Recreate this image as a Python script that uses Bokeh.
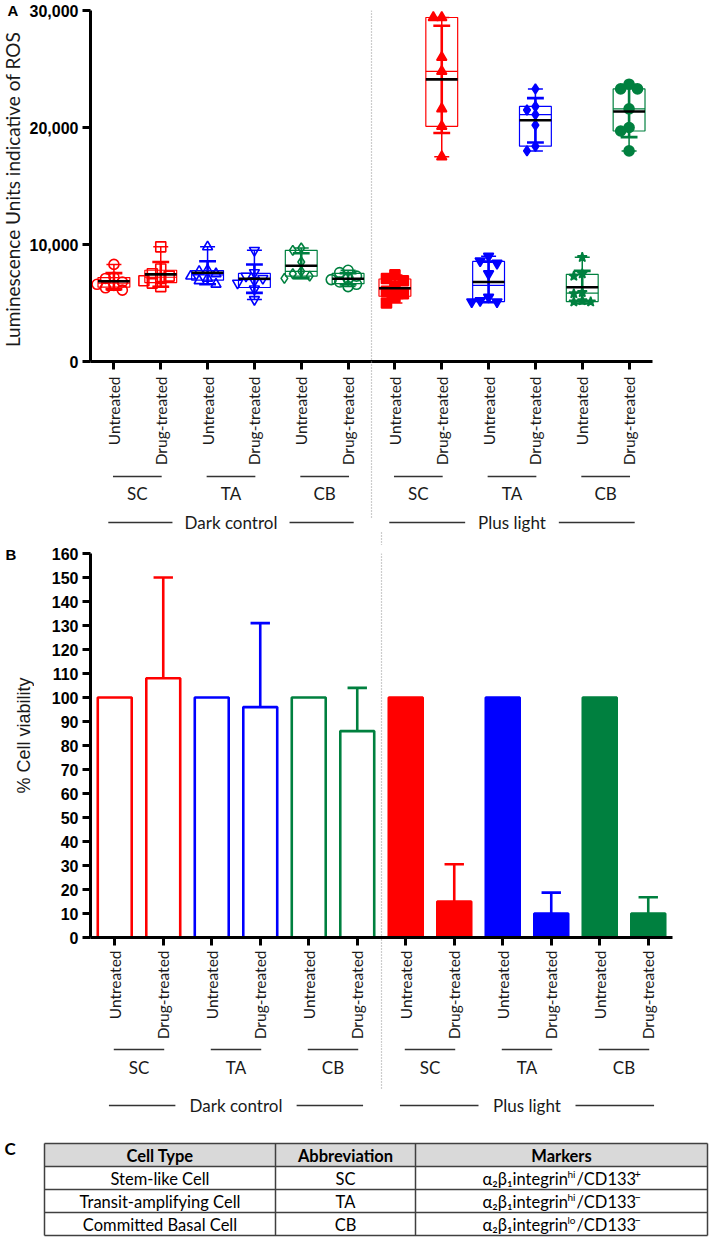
import math
import numpy as np
from bokeh.plotting import figure
from bokeh.models import Range1d, FixedTicker, NumeralTickFormatter, Span, ColumnDataSource
from bokeh.layouts import column, row
from bokeh.embed import file_html
from bokeh.resources import INLINE
from bokeh.core.properties import value

# ---------------- data ----------------
treatments = ["Untreated", "Drug-treated"] * 6
cell_groups = ["SC", "TA", "CB", "SC", "TA", "CB"]
conditions = ["Dark control", "Plus light"]

ros_dark_sc_untreated = [8300, 7200, 7100, 6800, 6600, 6500, 6300, 6100]
ros_dark_sc_drug = [9800, 7900, 7500, 7300, 7100, 6900, 6700, 6400]
ros_dark_ta_untreated = [9800, 7800, 7700, 7500, 7300, 7100, 6900, 6600]
ros_dark_ta_drug = [9500, 7600, 7300, 7100, 6900, 6700, 6200, 5300]
ros_dark_cb_untreated = [9700, 9500, 8500, 7700, 7500, 7300, 7100]
ros_dark_cb_drug = [7800, 7600, 7300, 7100, 7000, 6800, 6600, 6400]
ros_light_sc_untreated = [7400, 7100, 6900, 6400, 6000, 5800, 5500, 5000]
ros_light_sc_drug = [29400, 29400, 26000, 24800, 21600, 20100, 17500]
ros_light_ta_untreated = [9000, 8600, 8400, 7500, 5500, 5200, 5100, 5100]
ros_light_ta_drug = [23300, 21800, 21500, 21100, 20200, 18400, 18000]
ros_light_cb_untreated = [8900, 7500, 7300, 5900, 5800, 5200, 5100, 5100]
ros_light_cb_drug = [23700, 23300, 23300, 21600, 20000, 19700, 18000]

ros_groups = [ros_dark_sc_untreated, ros_dark_sc_drug, ros_dark_ta_untreated, ros_dark_ta_drug,
              ros_dark_cb_untreated, ros_dark_cb_drug, ros_light_sc_untreated, ros_light_sc_drug,
              ros_light_ta_untreated, ros_light_ta_drug, ros_light_cb_untreated, ros_light_cb_drug]

viability_mean = [100, 108, 100, 96, 100, 86, 100, 15, 100, 10, 100, 10]
viability_upper = [100, 150, 100, 131, 100, 104, 100, 30.5, 100, 18.7, 100, 16.8]

ros_ticks = [0, 10000, 20000, 30000]
viability_ticks = list(range(0, 161, 10))
ros_title = "Luminescence Units indicative of ROS"
viability_title = "% Cell viability"

table_header = ["Cell Type", "Abbreviation", "Markers"]
table_cell_type = ["Stem-like Cell", "Transit-amplifying Cell", "Committed Basal Cell"]
table_abbrev = ["SC", "TA", "CB"]
table_marker_base = "\u03b1\u2082\u03b2\u2081integrin"
table_integrin = ["hi", "hi", "lo"]
table_marker_mid = "/CD133"
table_cd133 = ["+", "\u2212", "\u2212"]

# ---------------- styles / geometry ----------------
RED, BLUE, GREEN = "#FF0000", "#0000FF", "#00803F"
group_colors = [RED, RED, BLUE, BLUE, GREEN, GREEN] * 2
group_markers = ["circle", "square", "triangle", "inverted_triangle", "diamond", "circle",
                 "square", "triangle", "inverted_triangle", "diamond", "star", "circle"]
group_filled = [0] * 6 + [1] * 6

W = 709          # total width
FRAME_L = 90     # frame left, in page pixels
LABEL_FONT = "Lato"
TICK_FONT = "Liberation Sans"
LINE_GREY = "#333333"
DOT_GREY = "#9a9a9a"
TXT = "#1a1a1a"
TICK_OUT = 8
xpos = np.arange(12)


def plain_fig(w, h, xr, yr):
    p = figure(width=w, height=h, x_range=Range1d(*xr), y_range=Range1d(*yr),
               x_axis_type=None, y_axis_type=None, output_backend="svg",
               toolbar_location=None, tools="", min_border=0, frame_align=False)
    p.outline_line_color = None
    p.xgrid.visible = False
    p.ygrid.visible = False
    p.background_fill_color = "white"
    p.border_fill_color = "white"
    return p


def make_fig(strip, h, top, bottom, right, yr, yticks, label_gap, fmt=None):
    p = figure(width=W - strip, height=h, x_range=Range1d(-0.5, 11.5), y_range=Range1d(*yr),
               output_backend="svg", toolbar_location=None, tools="",
               min_border_left=FRAME_L - strip, min_border_right=right,
               min_border_top=top, min_border_bottom=bottom, frame_align=False)
    p.outline_line_color = None
    p.xgrid.visible = False
    p.ygrid.visible = False
    p.background_fill_color = "white"
    p.border_fill_color = "white"
    xa = p.xaxis[0]
    # the minor tick at 5.5 draws the dotted separator through the label area
    xa.ticker = FixedTicker(ticks=list(range(12)), minor_ticks=[5.5])
    xa.major_label_overrides = {i: t for i, t in enumerate(treatments)}
    xa.major_label_orientation = math.pi / 2
    xa.major_label_text_font = LABEL_FONT
    xa.major_label_text_font_size = "15.5px"
    xa.major_label_text_color = TXT
    xa.minor_tick_out = bottom
    xa.minor_tick_in = 0
    xa.minor_tick_line_color = DOT_GREY
    xa.minor_tick_line_width = 1.2
    xa.minor_tick_line_dash = "1 2"
    xa.major_label_standoff = label_gap - (bottom - TICK_OUT)
    ya = p.yaxis[0]
    ya.ticker = FixedTicker(ticks=yticks)
    if fmt:
        ya.formatter = NumeralTickFormatter(format=fmt)
    ya.major_label_text_font = TICK_FONT
    ya.major_label_text_font_style = "bold"
    ya.major_label_text_font_size = "16px"
    ya.major_label_text_color = "black"
    ya.major_label_standoff = 4
    ya.minor_tick_out = 0
    ya.minor_tick_in = 0
    for ax in (xa, ya):
        ax.axis_line_width = 3
        ax.axis_line_color = "black"
        ax.major_tick_line_width = 3
        ax.major_tick_line_color = "black"
        ax.major_tick_out = TICK_OUT
        ax.major_tick_in = 0
    p.add_layout(Span(location=5.5, dimension="height", line_color=DOT_GREY,
                      line_width=1.2, line_dash="1 2"))
    return p


def strip_fig(w, h, letter, letter_px, letter_py, title, title_px, title_py, title_font, title_size):
    s = plain_fig(w, h, (0, w), (0, h))
    s.text(x=[letter_px], y=[h - letter_py], text=[letter], text_align="left", text_baseline="middle",
           text_font=value(TICK_FONT), text_font_style="bold", text_font_size="15px",
           text_color="black")
    s.text(x=[title_px], y=[h - title_py], text=[title], angle=math.pi / 2, text_align="center",
           text_baseline="middle", text_font=value(title_font), text_font_size=title_size,
           text_color=TXT)
    return s


def xmap(frame_w):
    ux = 12.0 / frame_w
    return lambda px: -0.5 + (px - FRAME_L) * ux


def label_fig(h, X, under_py, grp_py, cond_py, dots):
    p = plain_fig(W, h, (X(0), X(W)), (0, h))
    for (xd, y0, y1) in dots:
        p.segment(x0=[xd], x1=[xd], y0=[h - y0], y1=[h - y1], line_color=DOT_GREY,
                  line_width=1.2, line_dash="1 2")
    cx = [2 * k + 0.5 for k in range(6)]
    p.segment(x0=[c - 0.52 for c in cx], x1=[c + 0.52 for c in cx], y0=[h - under_py] * 6,
              y1=[h - under_py] * 6, line_color=LINE_GREY, line_width=1.5)
    p.text(x=cx, y=[h - grp_py] * 6, text=cell_groups, text_align="center", text_baseline="middle",
           text_font=value(LABEL_FONT), text_font_size="17px", text_color=TXT)
    cc = [2.5, 8.5]
    inner = [1.25, 1.0]
    x0s, x1s = [], []
    for c, inn in zip(cc, inner):
        x0s += [c - 2.62, c + inn]
        x1s += [c - inn, c + 2.62]
    p.segment(x0=x0s, x1=x1s, y0=[h - cond_py] * 4, y1=[h - cond_py] * 4,
              line_color=LINE_GREY, line_width=1.5)
    p.text(x=cc, y=[h - cond_py] * 2, text=conditions, text_align="center", text_baseline="middle",
           text_font=value(LABEL_FONT), text_font_size="17px", text_color=TXT)
    return p


def swarm(vals, dx, dy):
    vals = np.asarray(vals, float)
    order = np.argsort(-vals, kind="stable")
    offs = np.zeros(len(vals))
    placed = []
    cands = [0.0]
    for j in range(1, 8):
        cands += [-j * dx, j * dx]
    for idx in order:
        v = vals[idx]
        for c in cands:
            if all(abs(c - po) >= dx * 0.95 or abs(v - pv) >= dy for po, pv in placed):
                offs[idx] = c
                placed.append((c, v))
                break
    return offs


# ---------------- Panel A ----------------
STRIP_A = 26
A_H, A_TOP, A_BOT = 468, 10, 106
A_FRAME_R = 652
pa = make_fig(STRIP_A, A_H, A_TOP, A_BOT, W - A_FRAME_R, (0, 30000), ros_ticks, 7, fmt="0,0")
XA = xmap(A_FRAME_R - FRAME_L)

stats = dict(x=[], q1=[], q3=[], med=[], mn=[], mx=[], mean=[], lo=[], hi=[], color=[])
pts = dict(x=[], y=[], marker=[], color=[], alpha=[])
for i, g in enumerate(ros_groups):
    v = np.asarray(g, float)
    q1, med, q3 = np.percentile(v, [25, 50, 75], method="weibull")
    m, sd = v.mean(), v.std(ddof=1)
    stats["x"].append(float(i)); stats["q1"].append(q1); stats["q3"].append(q3)
    stats["med"].append(med); stats["mn"].append(v.min()); stats["mx"].append(v.max())
    stats["mean"].append(m); stats["lo"].append(m - sd); stats["hi"].append(m + sd)
    stats["color"].append(group_colors[i])
    offs = swarm(v, 0.18, 650)
    for val, o in zip(v, offs):
        pts["x"].append(i + o); pts["y"].append(val); pts["marker"].append(group_markers[i])
        pts["color"].append(group_colors[i]); pts["alpha"].append(group_filled[i])

st = ColumnDataSource(stats)
sx = np.asarray(stats["x"], float)
st.data["bl"] = sx - 0.34
st.data["br"] = sx + 0.34
st.data["cl"] = sx - 0.16
st.data["cr"] = sx + 0.16
st.data["sl"] = sx - 0.18
st.data["sr"] = sx + 0.18

pa.quad(left="bl", right="br", bottom="q1", top="q3", source=st, fill_color=None,
        line_color="color", line_width=1.2)
pa.segment(x0="bl", x1="br", y0="med", y1="med", source=st, line_color="color", line_width=1.2)
pa.segment(x0="x", x1="x", y0="mn", y1="mx", source=st, line_color="color", line_width=1.5)
pa.segment(x0="cl", x1="cr", y0="mn", y1="mn", source=st, line_color="color", line_width=1.5)
pa.segment(x0="cl", x1="cr", y0="mx", y1="mx", source=st, line_color="color", line_width=1.5)
pa.segment(x0="x", x1="x", y0="lo", y1="hi", source=st, line_color="color", line_width=2.6)
pa.segment(x0="sl", x1="sr", y0="lo", y1="lo", source=st, line_color="color", line_width=2.6)
pa.segment(x0="sl", x1="sr", y0="hi", y1="hi", source=st, line_color="color", line_width=2.6)
pa.scatter(x="x", y="y", marker="marker", source=ColumnDataSource(pts), size=10,
           line_color="color", fill_color="color", fill_alpha="alpha", line_width=1.6)
pa.segment(x0="bl", x1="br", y0="mean", y1="mean", source=st, line_color="black", line_width=2.6)

sa = strip_fig(STRIP_A, A_H, "A", 7, 10, ros_title, 12, 189, LABEL_FONT, "19px")

# ---------------- Panel B ----------------
STRIP_B = 34
B_H, B_TOP, B_BOT = 500, 8, 108
B_FRAME_R = 672
pb = make_fig(STRIP_B, B_H, B_TOP, B_BOT, W - B_FRAME_R, (0, 160), viability_ticks, 5)
XB = xmap(B_FRAME_R - FRAME_L)

bars = ColumnDataSource(dict(x=xpos, top=viability_mean, color=group_colors, alpha=group_filled))
pb.vbar(x="x", top="top", bottom=0, width=0.7, source=bars, fill_color="color",
        fill_alpha="alpha", line_color="color", line_width=2.6)
err_idx = [i for i in range(12) if viability_upper[i] > viability_mean[i]]
errs = ColumnDataSource(dict(
    x=[float(xpos[i]) for i in err_idx], top=[viability_mean[i] for i in err_idx],
    upper=[viability_upper[i] for i in err_idx], color=[group_colors[i] for i in err_idx],
    cl=[xpos[i] - 0.2 for i in err_idx], cr=[xpos[i] + 0.2 for i in err_idx]))
pb.segment(x0="x", x1="x", y0="top", y1="upper", source=errs, line_color="color", line_width=2.6)
pb.segment(x0="cl", x1="cr", y0="upper", y1="upper", source=errs, line_color="color", line_width=2.6)

sb = strip_fig(STRIP_B, B_H, "B", 5, 9, viability_title, 23, 190, TICK_FONT, "18px")

# ---------------- group label rows ----------------
B_DOT_X_IN_A = XA(FRAME_L + 6 * (B_FRAME_R - FRAME_L) / 12)
la = label_fig(77, XA, 8, 25, 54, [(5.5, 0, 49), (B_DOT_X_IN_A, 64, 77)])
lb = label_fig(80, XB, 4, 22, 60, [(5.5, 0, 45)])

# ---------------- Panel C (table) ----------------
C_H = 112
pc = plain_fig(W, C_H, (0, W), (0, C_H))
cols = [44, 275, 415, 707]
rows = [18, 41, 64, 87, 110]
Yc = lambda py: C_H - py
pc.quad(left=[cols[0]], right=[cols[-1]], top=[Yc(rows[0])], bottom=[Yc(rows[1])],
        fill_color="#D9D9D9", line_color=None)
pc.segment(x0=[cols[0]] * len(rows), x1=[cols[-1]] * len(rows), y0=[Yc(r) for r in rows],
           y1=[Yc(r) for r in rows], line_color="#404040", line_width=1.5)
pc.segment(x0=cols, x1=cols, y0=[Yc(rows[0])] * len(cols), y1=[Yc(rows[-1])] * len(cols),
           line_color="#404040", line_width=1.5)
ccent = [(cols[i] + cols[i + 1]) / 2 for i in range(3)]
rcent = [Yc((rows[i] + rows[i + 1]) / 2 + 0.5) for i in range(4)]
txt_kw = dict(text_baseline="middle", text_font=value(LABEL_FONT), text_color="black")
pc.text(x=ccent, y=[rcent[0]] * 3, text=table_header, text_align="center",
        text_font_style="bold", text_font_size="16.5px", **txt_kw)
pc.text(x=[ccent[0]] * 3, y=rcent[1:], text=table_cell_type, text_align="center",
        text_font_size="16.5px", **txt_kw)
pc.text(x=[ccent[1]] * 3, y=rcent[1:], text=table_abbrev, text_align="center",
        text_font_size="16.5px", **txt_kw)
W1, W2, W3 = 85, 9, 58
x0 = ccent[2] - (W1 + W2 + W3 + 6) / 2
pc.text(x=[x0] * 3, y=rcent[1:], text=[table_marker_base] * 3, text_align="left",
        text_font_size="16.5px", **txt_kw)
pc.text(x=[x0 + W1] * 3, y=[r + 5 for r in rcent[1:]], text=table_integrin, text_align="left",
        text_font_size="10px", **txt_kw)
pc.text(x=[x0 + W1 + W2] * 3, y=rcent[1:], text=[table_marker_mid] * 3, text_align="left",
        text_font_size="16.5px", **txt_kw)
pc.text(x=[x0 + W1 + W2 + W3] * 3, y=[r + 5 for r in rcent[1:]], text=table_cd133,
        text_align="left", text_font_size="11px", **txt_kw)
pc.text(x=[4], y=[Yc(23)], text=["C"], text_align="left", text_font_style="bold",
        text_font_size="17px", **txt_kw)

layout = column(row(sa, pa, spacing=0), la, row(sb, pb, spacing=0), lb, pc, spacing=0)
open("out.html", "w").write(file_html(layout, INLINE))
